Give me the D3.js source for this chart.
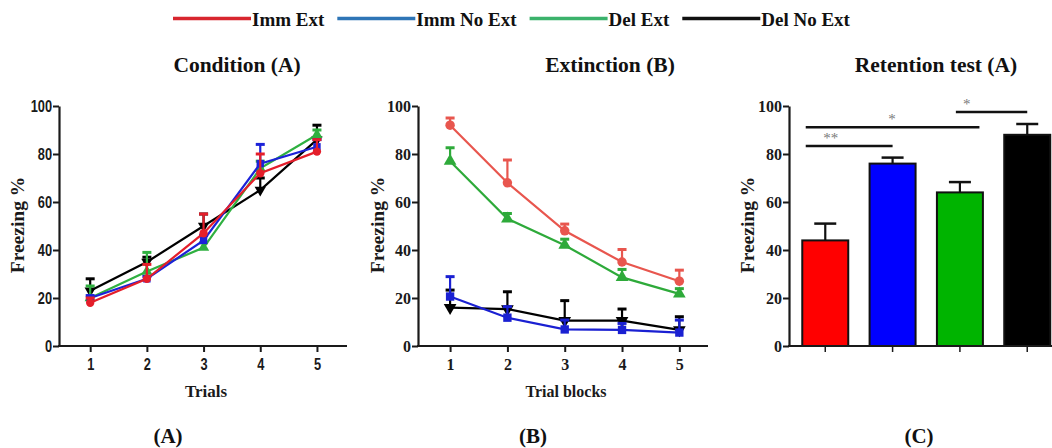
<!DOCTYPE html>
<html>
<head>
<meta charset="utf-8">
<script src="https://cdn.jsdelivr.net/npm/d3@7"></script>
<style>
  html, body { margin: 0; padding: 0; background: #fff; }
  svg { display: block; }
</style>
</head>
<body>
<svg id="chart" width="1052" height="448"></svg>
<script>
// ---------- data ----------
const groups = ["Imm Ext", "Imm No Ext", "Del Ext", "Del No Ext"];
const trials = [1, 2, 3, 4, 5];
const yTicks = [0, 20, 40, 60, 80, 100];

// Conditioning: mean freezing % and SEM per trial
const condImmExt     = [18, 28, 47, 72, 81];
const condImmExtSem  = [2, 6, 8, 8, 5];
const condImmNo      = [20, 28, 44, 76, 83];
const condImmNoSem   = [1, 1, 2, 8, 3];
const condDelExt     = [20, 31, 41, 74, 88];
const condDelExtSem  = [5, 8, 2, 3, 2];
const condDelNo      = [23, 35, 50, 65, 86];
const condDelNoSem   = [5, 2, 5, 5, 6];

// Extinction: mean freezing % and SEM per trial block
const extImmExt      = [92, 68, 48, 35, 27];
const extImmExtSem   = [3, 9.5, 2.8, 5.2, 4.6];
const extImmNo       = [20.6, 11.8, 6.9, 6.7, 5.6];
const extImmNoSem    = [8.3, 4.6, 3.9, 2.7, 5.2];
const extDelExt      = [77, 53, 42, 28.6, 21.7];
const extDelExtSem   = [5.6, 2.2, 2.5, 3.3, 2.2];
const extDelNo       = [16, 15.4, 10.6, 10.6, 6.7];
const extDelNoSem    = [7.3, 7.2, 8.3, 4.8, 5.5];

// Retention test: mean freezing % and SEM per group
const retMeans = [44, 76, 64, 88];
const retSem   = [7, 2.5, 4.3, 4.5];
// significance brackets: [group from, group to, label]
const sigPairs = [[0, 1, "**"], [0, 2, "*"], [2, 3, "*"]];

// ---------- styling ----------
const SERIF = "'Liberation Serif','Times New Roman',Times,serif";
const SANS = "'Liberation Sans',Arial,Helvetica,sans-serif";
const AXIS = "#1a1a1a";

const svg = d3.select("#chart");

// ---------- legend ----------
const legendColors = ["#d8262e", "#2e75b6", "#3bb26b", "#111111"];
{
  const lg = svg.append("g").attr("class", "legend");
  let lx = 173;
  groups.forEach((name, i) => {
    lg.append("line")
      .attr("x1", lx).attr("x2", lx + 78)
      .attr("y1", 18.5).attr("y2", 18.5)
      .attr("stroke", legendColors[i]).attr("stroke-width", 3.5);
    const t = lg.append("text")
      .attr("x", lx + 79).attr("y", 26)
      .attr("font-family", SERIF).attr("font-weight", "bold")
      .attr("font-size", 19).attr("fill", "#111")
      .text(name);
    lx += 79 + t.node().getComputedTextLength() + 13;
  });
}

// ---------- titles ----------
function title(txt, x, y, size) {
  svg.append("text")
    .attr("x", x).attr("y", y)
    .attr("text-anchor", "middle")
    .attr("font-family", SERIF).attr("font-weight", "bold")
    .attr("font-size", size).attr("fill", "#111")
    .text(txt);
}
title("Condition (A)", 237, 72, 21.5);
title("Extinction (B)", 610, 72, 21.5);
title("Retention test (A)", 936, 72, 21.5);
title("(A)", 168, 443, 21);
title("(B)", 533, 443, 21);
title("(C)", 919, 443, 21);

// ---------- shared helpers ----------
const yScale = d3.scaleLinear().domain([0, 100]).range([346, 106]);

function yAxis(g, x0, font, size, squeeze) {
  const ax = g.append("g")
    .attr("transform", `translate(${x0},0)`)
    .call(d3.axisLeft(yScale).tickValues(yTicks).tickSize(6).tickSizeOuter(0).tickPadding(1));
  ax.select(".domain").attr("stroke", AXIS).attr("stroke-width", 2.2);
  ax.selectAll(".tick line").attr("stroke", AXIS).attr("stroke-width", 2);
  const tx = ax.selectAll(".tick text")
    .attr("font-family", font).attr("font-weight", "bold")
    .attr("font-size", size).attr("fill", "#1a1a1a");
  if (squeeze) tx.attr("x", -7 / squeeze).attr("transform", `scale(${squeeze},1)`);
  return ax;
}

function yTitle(g, x) {
  g.append("text")
    .attr("transform", `translate(${x},225) rotate(-90)`)
    .attr("text-anchor", "middle")
    .attr("font-family", SERIF).attr("font-weight", "bold")
    .attr("font-size", 19.5).attr("fill", "#1a1a1a")
    .text("Freezing %");
}

function xAxisLine(g, x0, x1) {
  g.append("line")
    .attr("x1", x0 - 1).attr("x2", x1)
    .attr("y1", yScale(0)).attr("y2", yScale(0))
    .attr("stroke", AXIS).attr("stroke-width", 2.2);
}

const symbolFor = {
  "Imm Ext": d3.symbolCircle,
  "Imm No Ext": d3.symbolSquare,
  "Del Ext": d3.symbolTriangle,
  "Del No Ext": d3.symbolTriangle
};

function linePanel(cfg) {
  const g = svg.append("g");
  const x = d3.scaleLinear().domain(cfg.xDomain).range(cfg.xRange);

  xAxisLine(g, cfg.xRange[0], cfg.xRange[1]);
  const xa = g.append("g")
    .attr("transform", `translate(0,${yScale(0)})`)
    .call(d3.axisBottom(x).tickValues(trials).tickFormat(d3.format("d")).tickSize(6).tickPadding(7));
  xa.select(".domain").remove();
  xa.selectAll(".tick line").attr("stroke", AXIS).attr("stroke-width", 2);
  const xt = xa.selectAll(".tick text")
    .attr("font-family", cfg.tickFont).attr("font-weight", "bold")
    .attr("font-size", cfg.tickSize).attr("fill", "#1a1a1a");
  if (cfg.squeeze) xt.attr("transform", `scale(${cfg.squeeze},1)`);

  yAxis(g, cfg.xRange[0], cfg.tickFont, cfg.tickSize, cfg.squeeze);
  yTitle(g, cfg.yTitleX);

  g.append("text")
    .attr("x", cfg.xTitleX).attr("y", 397)
    .attr("text-anchor", "middle")
    .attr("font-family", SERIF).attr("font-weight", "bold")
    .attr("font-size", cfg.xTitleSize).attr("fill", "#1a1a1a")
    .text(cfg.xTitle);

  const line = d3.line().x((d, i) => x(trials[i])).y(d => yScale(d));

  cfg.series.forEach(s => {
    const sg = g.append("g");
    // SEM bars (upper only)
    s.values.forEach((v, i) => {
      const cx = x(trials[i]);
      sg.append("line")
        .attr("x1", cx).attr("x2", cx)
        .attr("y1", yScale(v)).attr("y2", yScale(v + s.sem[i]))
        .attr("stroke", s.color).attr("stroke-width", 2.2);
      sg.append("line")
        .attr("x1", cx - 4.5).attr("x2", cx + 4.5)
        .attr("y1", yScale(v + s.sem[i])).attr("y2", yScale(v + s.sem[i]))
        .attr("stroke", s.color).attr("stroke-width", 3);
    });
    sg.append("path")
      .attr("d", line(s.values))
      .attr("fill", "none").attr("stroke", s.color).attr("stroke-width", 2.2);
    sg.selectAll("path.mk")
      .data(s.values)
      .join("path")
      .attr("class", "mk")
      .attr("d", d3.symbol().type(symbolFor[s.name]).size(cfg.markerSize))
      .attr("transform", (d, i) =>
        `translate(${x(trials[i])},${yScale(d)})` + (s.name === "Del No Ext" ? " rotate(180)" : ""))
      .attr("fill", s.color);
  });
}

// ---------- panel A: conditioning ----------
linePanel({
  xDomain: [0.45, 5.53], xRange: [59, 347],
  tickFont: SANS, tickSize: 16, squeeze: 0.8,
  yTitleX: 24, xTitle: "Trials", xTitleX: 206, xTitleSize: 17,
  markerSize: 55,
  series: [
    { name: "Del No Ext", color: "#000000", values: condDelNo,  sem: condDelNoSem },
    { name: "Del Ext",    color: "#2fb040", values: condDelExt, sem: condDelExtSem },
    { name: "Imm No Ext", color: "#1c22d8", values: condImmNo,  sem: condImmNoSem },
    { name: "Imm Ext",    color: "#e41e2a", values: condImmExt, sem: condImmExtSem }
  ]
});

// ---------- panel B: extinction ----------
linePanel({
  xDomain: [0.44, 5.5], xRange: [418, 708],
  tickFont: SERIF, tickSize: 16,
  yTitleX: 384, xTitle: "Trial blocks", xTitleX: 566, xTitleSize: 16,
  markerSize: 70,
  series: [
    { name: "Del No Ext", color: "#000000", values: extDelNo,  sem: extDelNoSem },
    { name: "Imm No Ext", color: "#1a20d2", values: extImmNo,  sem: extImmNoSem },
    { name: "Del Ext",    color: "#2eaa3a", values: extDelExt, sem: extDelExtSem },
    { name: "Imm Ext",    color: "#e8564e", values: extImmExt, sem: extImmExtSem }
  ]
});

// ---------- panel C: retention test ----------
{
  const g = svg.append("g");
  const barColors = ["#ff0000", "#0000ff", "#00b400", "#000000"];
  const x = d3.scaleBand().domain(groups).range([791.6, 1060.9])
    .paddingInner(0.317).paddingOuter(0.1585);
  const idx = d3.scaleLinear().domain([0, 1]).range([x(groups[0]) + x.bandwidth() / 2, x(groups[1]) + x.bandwidth() / 2]);

  // bars
  g.selectAll("rect.bar")
    .data(retMeans)
    .join("rect")
    .attr("class", "bar")
    .attr("x", (d, i) => x(groups[i]))
    .attr("width", x.bandwidth())
    .attr("y", d => yScale(d))
    .attr("height", d => yScale(0) - yScale(d))
    .attr("fill", (d, i) => barColors[i])
    .attr("stroke", "#111").attr("stroke-width", 2);

  // SEM bars
  retMeans.forEach((v, i) => {
    const cx = x(groups[i]) + x.bandwidth() / 2;
    g.append("line").attr("x1", cx).attr("x2", cx)
      .attr("y1", yScale(v)).attr("y2", yScale(v + retSem[i]))
      .attr("stroke", "#111").attr("stroke-width", 2.2);
    g.append("line").attr("x1", cx - 11).attr("x2", cx + 11)
      .attr("y1", yScale(v + retSem[i])).attr("y2", yScale(v + retSem[i]))
      .attr("stroke", "#111").attr("stroke-width", 2.5);
  });

  xAxisLine(g, 789, 1052);
  groups.forEach((name, i) => {
    const cx = x(name) + x.bandwidth() / 2;
    g.append("line").attr("x1", cx).attr("x2", cx)
      .attr("y1", yScale(0)).attr("y2", yScale(0) + 6)
      .attr("stroke", AXIS).attr("stroke-width", 1.5);
  });
  yAxis(g, 789, SERIF, 16);
  yTitle(g, 754);

  // significance brackets
  const sigLayout = [
    { from: -0.29, to: 1.0, level: 83.3, labelAt: 0.08 },
    { from: -0.29, to: 2.29, level: 91.1, labelAt: 0.99 },
    { from: 1.94, to: 3.0, level: 97.5, labelAt: 2.1 }
  ];
  sigPairs.forEach((p, k) => {
    const L = sigLayout[k];
    g.append("line")
      .attr("x1", idx(L.from)).attr("x2", idx(L.to))
      .attr("y1", yScale(L.level)).attr("y2", yScale(L.level))
      .attr("stroke", "#111").attr("stroke-width", 2.5);
    g.append("text")
      .attr("x", idx(L.labelAt)).attr("y", yScale(L.level) - 3)
      .attr("text-anchor", "middle")
      .attr("font-family", SERIF).attr("font-size", 15).attr("fill", "#7a7a7a")
      .text(p[2]);
  });
}
</script>
</body>
</html>
